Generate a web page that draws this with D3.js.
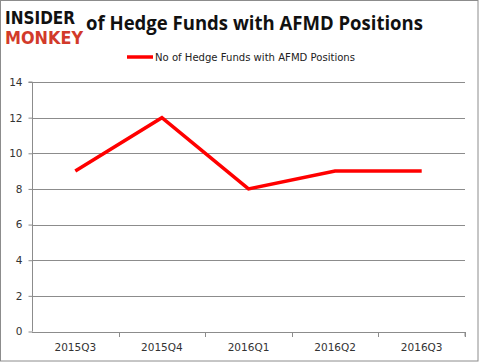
<!DOCTYPE html>
<html><head><meta charset="utf-8">
<script src="https://cdn.jsdelivr.net/npm/d3@7"></script>
<style>body{margin:0;background:#fff}svg{display:block}</style>
</head><body>
<svg id="c" width="479" height="362"></svg>
<script>
const categories = ["2015Q3","2015Q4","2016Q1","2016Q2","2016Q3"];
const values = [9, 12, 8, 9, 9];
const yTicks = [0,2,4,6,8,10,12,14];
const seriesName = "No of Hedge Funds with AFMD Positions";
const title = "of Hedge Funds with AFMD Positions";

const svg = d3.select("#c");
const m = {l:32, r:465, t:82, b:331.5};
const x = d3.scaleBand().domain(categories).range([m.l, m.r]);
const y = d3.scaleLinear().domain([0,14]).range([m.b, m.t]);

svg.append("rect").attr("x",0.5).attr("y",0.5).attr("width",477.5).attr("height",360.5)
  .attr("fill","#fff").attr("stroke","#8c8c8c").attr("stroke-width",1);

// grid
svg.append("g").selectAll("line").data(yTicks.filter(d=>d>0)).join("line")
  .attr("x1",m.l).attr("x2",m.r).attr("y1",d=>Math.round(y(d))+0.5).attr("y2",d=>Math.round(y(d))+0.5)
  .attr("stroke","#8c8c8c").attr("stroke-width",1);

// y axis
const ya = svg.append("g").attr("transform",`translate(${m.l+0.5},0)`)
  .call(d3.axisLeft(y).tickValues(yTicks).tickSize(4).tickPadding(6).tickFormat(d3.format("d")));
ya.select(".domain").attr("stroke","#8c8c8c").attr("d",`M-4,${m.t}H0V${m.b}`);
ya.selectAll(".tick line").attr("stroke","#8c8c8c");
ya.selectAll("text").attr("font-family","DejaVu Sans, sans-serif").attr("font-size",10.5).attr("fill","#333");

// x axis
const xa = svg.append("g").attr("transform",`translate(0,${Math.round(m.b)+0.5})`)
  .call(d3.axisBottom(x).tickSize(0).tickPadding(11));
xa.select(".domain").attr("stroke","#8c8c8c").attr("d",`M${m.l},0H${m.r}V4`);
xa.selectAll("text").attr("font-family","DejaVu Sans, sans-serif").attr("font-size",10.5).attr("fill","#333");
xa.selectAll(".tick line").remove();
svg.append("g").selectAll("line").data(categories).join("line")
  .attr("x1",d=>Math.round(x(d)+x.bandwidth())+0.5).attr("x2",d=>Math.round(x(d)+x.bandwidth())+0.5)
  .attr("y1",Math.round(m.b)).attr("y2",Math.round(m.b)+5).attr("stroke","#8c8c8c");

// line
const line = d3.line().x((d,i)=>x(categories[i])+x.bandwidth()/2).y(d=>y(d));
svg.append("path").datum(values).attr("d",line).attr("fill","none")
  .attr("stroke","#ff0000").attr("stroke-width",3.5).attr("stroke-linejoin","miter");

// legend
svg.append("line").attr("x1",127).attr("x2",153).attr("y1",57).attr("y2",57)
  .attr("stroke","#ff0000").attr("stroke-width",3.5);
svg.append("text").attr("x",155).attr("y",61).text(seriesName)
  .attr("font-family","DejaVu Sans, sans-serif").attr("font-size",11).attr("fill","#222")
  .attr("textLength",200).attr("lengthAdjust","spacingAndGlyphs");

// title
svg.append("text").attr("x",86).attr("y",30).text(title)
  .attr("font-family","Open Sans, Liberation Sans, sans-serif").attr("font-weight","bold").attr("font-size",19.5).attr("fill","#111")
  .attr("textLength",337).attr("lengthAdjust","spacingAndGlyphs");

// logo
svg.append("text").attr("x",5).attr("y",24).text("INSIDER")
  .attr("font-family","DejaVu Sans, sans-serif").attr("font-weight","bold").attr("font-size",17)
  .attr("textLength",70).attr("lengthAdjust","spacingAndGlyphs").attr("fill","#111");
svg.append("text").attr("x",5).attr("y",44).text("MONKEY")
  .attr("font-family","DejaVu Sans, sans-serif").attr("font-weight","bold").attr("font-size",17)
  .attr("textLength",78).attr("lengthAdjust","spacingAndGlyphs").attr("fill","#d23a2a");
</script>
</body></html>
